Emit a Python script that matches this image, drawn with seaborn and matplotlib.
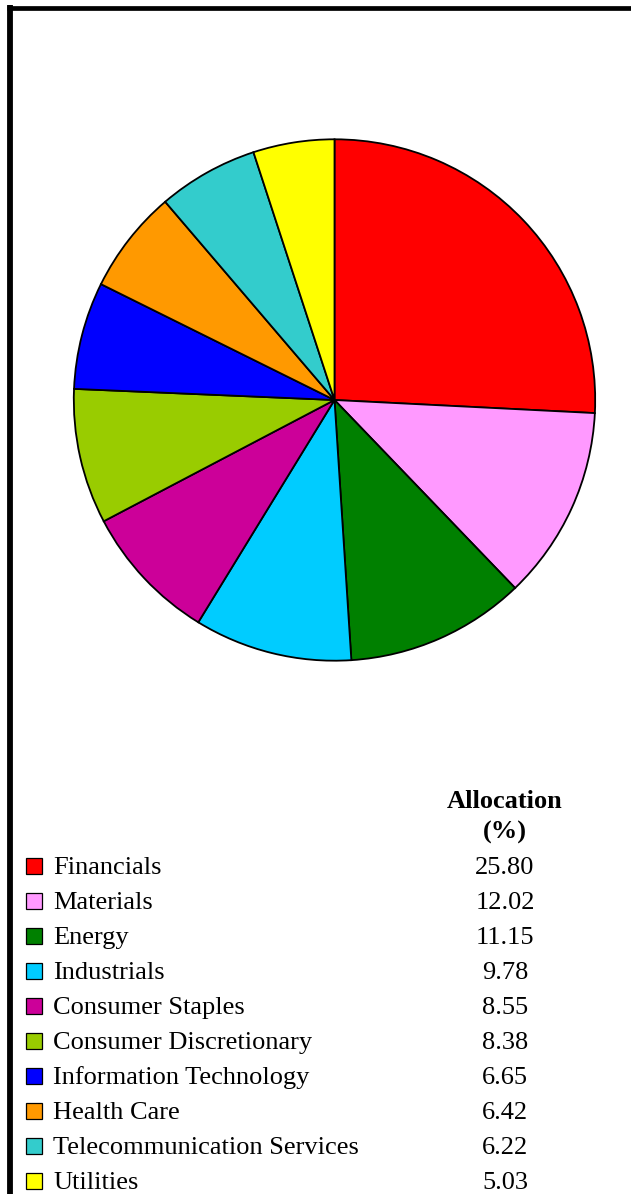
"""Sector allocation pie chart with a tabular legend."""

import matplotlib.pyplot as plt
import seaborn as sns
from matplotlib.lines import Line2D
from matplotlib.patches import Rectangle


sectors = [
    "Financials",
    "Materials",
    "Energy",
    "Industrials",
    "Consumer Staples",
    "Consumer Discretionary",
    "Information Technology",
    "Health Care",
    "Telecommunication Services",
    "Utilities",
]
allocation = [25.80, 12.02, 11.15, 9.78, 8.55, 8.38, 6.65, 6.42, 6.22, 5.03]
sector_colors = [
    "#FF0000", "#FF99FF", "#008000", "#00CCFF", "#CC0099",
    "#99CC00", "#0000FF", "#FF9900", "#33CCCC", "#FFFF00",
]

W, H = 631, 1194


def fx(px):
    return px / W


def fy(py):
    return 1 - py / H


def main() -> None:
    sns.set_theme(style="white")
    plt.rcParams["font.family"] = ["Liberation Serif", "DejaVu Serif"]
    plt.rcParams["text.color"] = "black"
    palette = sns.color_palette(sector_colors)

    fig = plt.figure(figsize=(W / 100, H / 100), dpi=100)
    fig.patch.set_facecolor("white")

    # pie area
    cx, cy, r = 334.5, 400, 262
    ax = fig.add_axes([fx(cx - r), fy(cy + r), 2 * r / W, 2 * r / H])
    ax.pie(
        allocation,
        colors=palette,
        startangle=90,
        counterclock=False,
        wedgeprops={"edgecolor": "black", "linewidth": 1.3},
    )
    ax.set_xlim(-1.005, 1.005)
    ax.set_ylim(-1.005, 1.005)
    ax.set_aspect("equal")
    ax.axis("off")

    # frame (left and top edges only)
    fig.add_artist(Line2D([fx(10), fx(10)], [fy(5), 0], color="black", linewidth=4.2,
                          solid_capstyle="butt", transform=fig.transFigure))
    fig.add_artist(Line2D([fx(7), 1], [fy(7.5), fy(7.5)], color="black", linewidth=3.4,
                          solid_capstyle="butt", transform=fig.transFigure))

    # legend table
    fs = 19
    value_x = 505
    fig.text(fx(value_x), fy(802), "Allocation", ha="center", va="center", fontsize=fs,
             fontweight="bold", color="black")
    fig.text(fx(value_x), fy(832), "(%)", ha="center", va="center", fontsize=fs,
             fontweight="bold", color="black")

    row_top, row_step = 866, 35
    for i, (name, value) in enumerate(zip(sectors, allocation)):
        y = row_top + i * row_step
        fig.add_artist(
            Rectangle(
                (fx(26), fy(y + 8)),
                16 / W,
                16 / H,
                facecolor=palette[i],
                edgecolor="black",
                linewidth=0.9,
                transform=fig.transFigure,
            )
        )
        fig.text(fx(53), fy(y + 2), name, ha="left", va="center", fontsize=fs, color="black")
        fig.text(fx(value_x), fy(y + 2), f"{value:.2f}", ha="center", va="center", fontsize=fs,
                 color="black")

    fig.savefig("out.png", dpi=100, facecolor="white")
    plt.close(fig)


if __name__ == "__main__":
    main()
